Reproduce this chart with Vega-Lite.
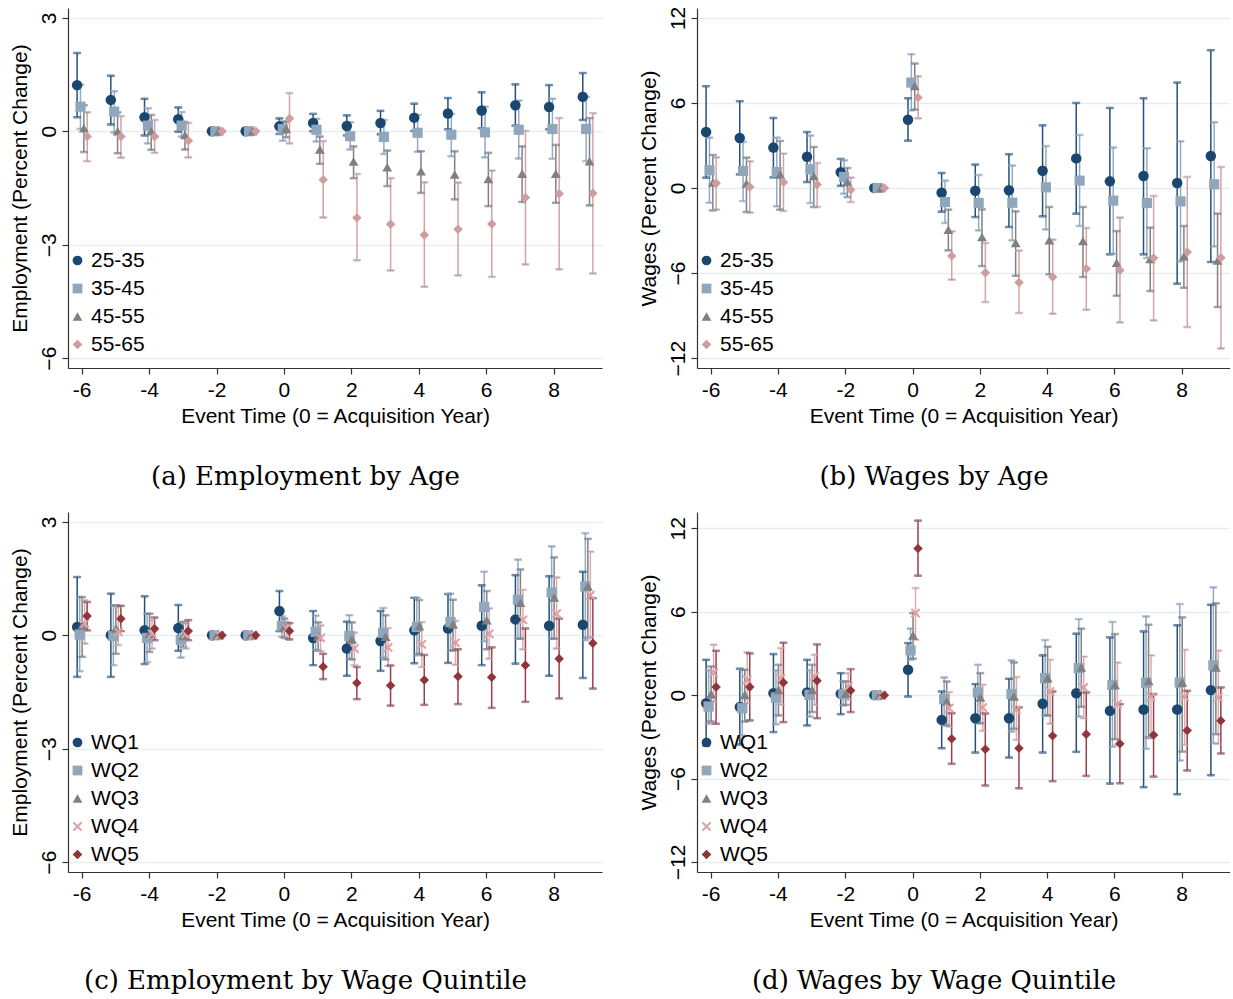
{
  "$schema": "https://vega.github.io/schema/vega-lite/v6.json",
  "padding": {"left": 9, "top": 6, "right": 0, "bottom": 0},
  "background": "white",
  "config": {
    "view": {"stroke": null},
    "font": "Liberation Sans",
    "axis": {"labelFont": "Liberation Sans", "labelFontSize": 21, "titleFont": "Liberation Sans", "titleFontSize": 21, "titleFontWeight": "normal", "labelColor": "#000", "titleColor": "#000", "domainColor": "#333", "tickColor": "#333", "tickSize": 6, "domainWidth": 1.2, "tickWidth": 1.2, "gridColor": "#e6eef0", "gridWidth": 1.3},
    "axisX": {"grid": false, "labelAngle": 0, "labelPadding": 5, "titlePadding": 5},
    "axisY": {"labelAngle": -90, "labelPadding": 3, "titlePadding": 8},
    "legend": {"labelFont": "Liberation Sans", "labelFontSize": 21, "labelColor": "#000", "symbolSize": 95, "rowPadding": 6, "labelOffset": 3, "padding": 0, "symbolStrokeWidth": 0},
    "title": {"font": "DejaVu Serif", "fontSize": 26, "fontWeight": "normal", "color": "#000", "orient": "bottom", "anchor": "middle", "frame": "bounds", "offset": 38}
  },
  "datasets": {
    "A": [
      {"t":-6,"group":"25-35","est":1.22,"lo":0.37,"hi":2.07},{"t":-5,"group":"25-35","est":0.83,"lo":0.18,"hi":1.47},{"t":-4,"group":"25-35","est":0.37,"lo":-0.11,"hi":0.86},{"t":-3,"group":"25-35","est":0.32,"lo":-0.01,"hi":0.63},{"t":-2,"group":"25-35","est":0,"lo":null,"hi":null},{"t":-1,"group":"25-35","est":0,"lo":null,"hi":null},{"t":0,"group":"25-35","est":0.13,"lo":-0.07,"hi":0.34},{"t":1,"group":"25-35","est":0.22,"lo":0.0,"hi":0.46},{"t":2,"group":"25-35","est":0.14,"lo":-0.11,"hi":0.42},{"t":3,"group":"25-35","est":0.22,"lo":-0.08,"hi":0.54},{"t":4,"group":"25-35","est":0.36,"lo":0.01,"hi":0.73},{"t":5,"group":"25-35","est":0.47,"lo":0.05,"hi":0.88},{"t":6,"group":"25-35","est":0.55,"lo":0.08,"hi":1.03},{"t":7,"group":"25-35","est":0.69,"lo":0.15,"hi":1.24},{"t":8,"group":"25-35","est":0.64,"lo":0.05,"hi":1.22},{"t":9,"group":"25-35","est":0.91,"lo":0.30,"hi":1.54},
      {"t":-6,"group":"35-45","est":0.65,"lo":0.06,"hi":1.23},{"t":-5,"group":"35-45","est":0.52,"lo":-0.03,"hi":1.06},{"t":-4,"group":"35-45","est":0.15,"lo":-0.32,"hi":0.61},{"t":-3,"group":"35-45","est":0.15,"lo":-0.14,"hi":0.51},{"t":-2,"group":"35-45","est":0,"lo":null,"hi":null},{"t":-1,"group":"35-45","est":0,"lo":null,"hi":null},{"t":0,"group":"35-45","est":0.06,"lo":-0.25,"hi":0.26},{"t":1,"group":"35-45","est":0.04,"lo":-0.27,"hi":0.33},{"t":2,"group":"35-45","est":-0.13,"lo":-0.48,"hi":0.24},{"t":3,"group":"35-45","est":-0.15,"lo":-0.60,"hi":0.30},{"t":4,"group":"35-45","est":-0.04,"lo":-0.54,"hi":0.43},{"t":5,"group":"35-45","est":-0.09,"lo":-0.66,"hi":0.46},{"t":6,"group":"35-45","est":-0.03,"lo":-0.69,"hi":0.65},{"t":7,"group":"35-45","est":0.04,"lo":-0.72,"hi":0.81},{"t":8,"group":"35-45","est":0.06,"lo":-0.73,"hi":0.86},{"t":9,"group":"35-45","est":0.06,"lo":-0.79,"hi":0.91},
      {"t":-6,"group":"45-55","est":0.08,"lo":-0.55,"hi":0.69},{"t":-5,"group":"45-55","est":0.0,"lo":-0.58,"hi":0.50},{"t":-4,"group":"45-55","est":0.0,"lo":-0.49,"hi":0.43},{"t":-3,"group":"45-55","est":-0.10,"lo":-0.48,"hi":0.24},{"t":-2,"group":"45-55","est":0,"lo":null,"hi":null},{"t":-1,"group":"45-55","est":0,"lo":null,"hi":null},{"t":0,"group":"45-55","est":0.07,"lo":-0.16,"hi":0.25},{"t":1,"group":"45-55","est":-0.48,"lo":-0.86,"hi":-0.14},{"t":2,"group":"45-55","est":-0.80,"lo":-1.24,"hi":-0.40},{"t":3,"group":"45-55","est":-0.95,"lo":-1.45,"hi":-0.51},{"t":4,"group":"45-55","est":-1.06,"lo":-1.63,"hi":-0.53},{"t":5,"group":"45-55","est":-1.14,"lo":-1.80,"hi":-0.53},{"t":6,"group":"45-55","est":-1.26,"lo":-1.98,"hi":-0.57},{"t":7,"group":"45-55","est":-1.12,"lo":-1.87,"hi":-0.40},{"t":8,"group":"45-55","est":-1.12,"lo":-1.89,"hi":-0.36},{"t":9,"group":"45-55","est":-0.79,"lo":-1.96,"hi":0.35},
      {"t":-6,"group":"55-65","est":-0.14,"lo":-0.79,"hi":0.50},{"t":-5,"group":"55-65","est":-0.14,"lo":-0.70,"hi":0.40},{"t":-4,"group":"55-65","est":-0.14,"lo":-0.57,"hi":0.30},{"t":-3,"group":"55-65","est":-0.25,"lo":-0.69,"hi":0.22},{"t":-2,"group":"55-65","est":0,"lo":null,"hi":null},{"t":-1,"group":"55-65","est":0,"lo":null,"hi":null},{"t":0,"group":"55-65","est":0.34,"lo":-0.32,"hi":1.01},{"t":1,"group":"55-65","est":-1.28,"lo":-2.28,"hi":-0.26},{"t":2,"group":"55-65","est":-2.29,"lo":-3.41,"hi":-1.13},{"t":3,"group":"55-65","est":-2.46,"lo":-3.68,"hi":-1.24},{"t":4,"group":"55-65","est":-2.74,"lo":-4.11,"hi":-1.35},{"t":5,"group":"55-65","est":-2.59,"lo":-3.81,"hi":-1.36},{"t":6,"group":"55-65","est":-2.45,"lo":-3.85,"hi":-1.04},{"t":7,"group":"55-65","est":-1.75,"lo":-3.52,"hi":0.01},{"t":8,"group":"55-65","est":-1.65,"lo":-3.65,"hi":0.35},{"t":9,"group":"55-65","est":-1.64,"lo":-3.76,"hi":0.48}
    ],
    "B": [
      {"t":-6,"group":"25-35","est":3.95,"lo":0.73,"hi":7.18},{"t":-5,"group":"25-35","est":3.53,"lo":0.96,"hi":6.12},{"t":-4,"group":"25-35","est":2.85,"lo":0.75,"hi":4.94},{"t":-3,"group":"25-35","est":2.21,"lo":0.42,"hi":3.95},{"t":-2,"group":"25-35","est":1.11,"lo":0.16,"hi":2.05},{"t":-1,"group":"25-35","est":0,"lo":null,"hi":null},{"t":0,"group":"25-35","est":4.82,"lo":3.34,"hi":6.33},{"t":1,"group":"25-35","est":-0.33,"lo":-1.67,"hi":1.06},{"t":2,"group":"25-35","est":-0.19,"lo":-2.05,"hi":1.65},{"t":3,"group":"25-35","est":-0.16,"lo":-2.75,"hi":2.38},{"t":4,"group":"25-35","est":1.22,"lo":-2.0,"hi":4.42},{"t":5,"group":"25-35","est":2.09,"lo":-1.81,"hi":6.0},{"t":6,"group":"25-35","est":0.47,"lo":-4.68,"hi":5.65},{"t":7,"group":"25-35","est":0.85,"lo":-4.68,"hi":6.33},{"t":8,"group":"25-35","est":0.35,"lo":-6.75,"hi":7.44},{"t":9,"group":"25-35","est":2.26,"lo":-5.22,"hi":9.72},
      {"t":-6,"group":"35-45","est":1.25,"lo":-1.04,"hi":3.55},{"t":-5,"group":"35-45","est":1.2,"lo":-0.92,"hi":3.25},{"t":-4,"group":"35-45","est":1.13,"lo":-1.29,"hi":3.55},{"t":-3,"group":"35-45","est":1.32,"lo":-1.06,"hi":3.69},{"t":-2,"group":"35-45","est":0.78,"lo":-0.4,"hi":1.95},{"t":-1,"group":"35-45","est":0,"lo":null,"hi":null},{"t":0,"group":"35-45","est":7.44,"lo":5.48,"hi":9.44},{"t":1,"group":"35-45","est":-0.99,"lo":-2.47,"hi":0.52},{"t":2,"group":"35-45","est":-1.06,"lo":-2.99,"hi":0.92},{"t":3,"group":"35-45","est":-1.04,"lo":-3.69,"hi":1.58},{"t":4,"group":"35-45","est":0.05,"lo":-2.92,"hi":2.96},{"t":5,"group":"35-45","est":0.52,"lo":-2.68,"hi":3.74},{"t":6,"group":"35-45","est":-0.89,"lo":-4.64,"hi":2.85},{"t":7,"group":"35-45","est":-1.06,"lo":-4.94,"hi":2.8},{"t":8,"group":"35-45","est":-0.94,"lo":-5.18,"hi":3.29},{"t":9,"group":"35-45","est":0.26,"lo":-4.12,"hi":4.64},
      {"t":-6,"group":"45-55","est":0.38,"lo":-1.58,"hi":2.33},{"t":-5,"group":"45-55","est":0.31,"lo":-1.69,"hi":2.14},{"t":-4,"group":"45-55","est":0.96,"lo":-1.53,"hi":3.32},{"t":-3,"group":"45-55","est":0.85,"lo":-1.34,"hi":2.89},{"t":-2,"group":"45-55","est":0.42,"lo":-0.64,"hi":1.41},{"t":-1,"group":"45-55","est":0,"lo":null,"hi":null},{"t":0,"group":"45-55","est":7.2,"lo":5.53,"hi":8.78},{"t":1,"group":"45-55","est":-2.94,"lo":-4.4,"hi":-1.53},{"t":2,"group":"45-55","est":-3.46,"lo":-5.51,"hi":-1.51},{"t":3,"group":"45-55","est":-3.88,"lo":-6.19,"hi":-1.65},{"t":4,"group":"45-55","est":-3.69,"lo":-6.09,"hi":-1.34},{"t":5,"group":"45-55","est":-3.74,"lo":-6.28,"hi":-1.34},{"t":6,"group":"45-55","est":-5.27,"lo":-7.6,"hi":-3.04},{"t":7,"group":"45-55","est":-5.01,"lo":-7.27,"hi":-2.8},{"t":8,"group":"45-55","est":-4.82,"lo":-7.04,"hi":-2.68},{"t":9,"group":"45-55","est":-5.11,"lo":-8.4,"hi":-1.81},
      {"t":-6,"group":"55-65","est":0.33,"lo":-1.53,"hi":2.16},{"t":-5,"group":"55-65","est":0.07,"lo":-1.74,"hi":1.88},{"t":-4,"group":"55-65","est":0.4,"lo":-1.62,"hi":2.42},{"t":-3,"group":"55-65","est":0.24,"lo":-1.34,"hi":1.76},{"t":-2,"group":"55-65","est":-0.12,"lo":-0.99,"hi":0.73},{"t":-1,"group":"55-65","est":0,"lo":null,"hi":null},{"t":0,"group":"55-65","est":6.38,"lo":4.92,"hi":7.88},{"t":1,"group":"55-65","est":-4.8,"lo":-6.47,"hi":-3.06},{"t":2,"group":"55-65","est":-5.98,"lo":-8.05,"hi":-3.88},{"t":3,"group":"55-65","est":-6.66,"lo":-8.82,"hi":-4.42},{"t":4,"group":"55-65","est":-6.28,"lo":-8.87,"hi":-3.65},{"t":5,"group":"55-65","est":-5.69,"lo":-8.59,"hi":-2.82},{"t":6,"group":"55-65","est":-5.81,"lo":-9.48,"hi":-2.09},{"t":7,"group":"55-65","est":-4.94,"lo":-9.34,"hi":-0.56},{"t":8,"group":"55-65","est":-4.52,"lo":-9.81,"hi":0.78},{"t":9,"group":"55-65","est":-4.92,"lo":-11.32,"hi":1.48}
    ],
    "C": [
      {"t":-6,"group":"WQ1","est":0.22,"lo":-1.10,"hi":1.54},{"t":-5,"group":"WQ1","est":0.0,"lo":-1.10,"hi":1.10},{"t":-4,"group":"WQ1","est":0.13,"lo":-0.76,"hi":1.03},{"t":-3,"group":"WQ1","est":0.19,"lo":-0.41,"hi":0.80},{"t":-2,"group":"WQ1","est":0,"lo":null,"hi":null},{"t":-1,"group":"WQ1","est":0,"lo":null,"hi":null},{"t":0,"group":"WQ1","est":0.64,"lo":0.11,"hi":1.17},{"t":1,"group":"WQ1","est":-0.07,"lo":-0.79,"hi":0.64},{"t":2,"group":"WQ1","est":-0.35,"lo":-1.07,"hi":0.36},{"t":3,"group":"WQ1","est":-0.15,"lo":-0.94,"hi":0.64},{"t":4,"group":"WQ1","est":0.13,"lo":-0.74,"hi":0.99},{"t":5,"group":"WQ1","est":0.18,"lo":-0.73,"hi":1.09},{"t":6,"group":"WQ1","est":0.25,"lo":-0.79,"hi":1.32},{"t":7,"group":"WQ1","est":0.42,"lo":-0.75,"hi":1.59},{"t":8,"group":"WQ1","est":0.25,"lo":-1.07,"hi":1.56},{"t":9,"group":"WQ1","est":0.28,"lo":-1.13,"hi":1.68},
      {"t":-6,"group":"WQ2","est":0.02,"lo":-0.95,"hi":1.01},{"t":-5,"group":"WQ2","est":-0.02,"lo":-0.79,"hi":0.79},{"t":-4,"group":"WQ2","est":-0.07,"lo":-0.71,"hi":0.57},{"t":-3,"group":"WQ2","est":-0.12,"lo":-0.59,"hi":0.35},{"t":-2,"group":"WQ2","est":0,"lo":null,"hi":null},{"t":-1,"group":"WQ2","est":0,"lo":null,"hi":null},{"t":0,"group":"WQ2","est":0.25,"lo":-0.04,"hi":0.50},{"t":1,"group":"WQ2","est":0.09,"lo":-0.38,"hi":0.52},{"t":2,"group":"WQ2","est":-0.02,"lo":-0.62,"hi":0.53},{"t":3,"group":"WQ2","est":0.06,"lo":-0.59,"hi":0.72},{"t":4,"group":"WQ2","est":0.22,"lo":-0.53,"hi":0.99},{"t":5,"group":"WQ2","est":0.35,"lo":-0.40,"hi":1.10},{"t":6,"group":"WQ2","est":0.75,"lo":-0.16,"hi":1.68},{"t":7,"group":"WQ2","est":0.94,"lo":-0.09,"hi":2.0},{"t":8,"group":"WQ2","est":1.13,"lo":-0.09,"hi":2.35},{"t":9,"group":"WQ2","est":1.29,"lo":-0.13,"hi":2.70},
      {"t":-6,"group":"WQ3","est":0.26,"lo":-0.57,"hi":1.01},{"t":-5,"group":"WQ3","est":0.18,"lo":-0.49,"hi":0.79},{"t":-4,"group":"WQ3","est":0.04,"lo":-0.44,"hi":0.57},{"t":-3,"group":"WQ3","est":-0.02,"lo":-0.31,"hi":0.35},{"t":-2,"group":"WQ3","est":0,"lo":null,"hi":null},{"t":-1,"group":"WQ3","est":0,"lo":null,"hi":null},{"t":0,"group":"WQ3","est":0.22,"lo":-0.07,"hi":0.44},{"t":1,"group":"WQ3","est":-0.03,"lo":-0.41,"hi":0.34},{"t":2,"group":"WQ3","est":-0.11,"lo":-0.64,"hi":0.34},{"t":3,"group":"WQ3","est":-0.04,"lo":-0.64,"hi":0.53},{"t":4,"group":"WQ3","est":0.24,"lo":-0.49,"hi":0.93},{"t":5,"group":"WQ3","est":0.29,"lo":-0.40,"hi":0.94},{"t":6,"group":"WQ3","est":0.40,"lo":-0.37,"hi":1.17},{"t":7,"group":"WQ3","est":0.86,"lo":-0.09,"hi":1.74},{"t":8,"group":"WQ3","est":1.0,"lo":-0.09,"hi":2.06},{"t":9,"group":"WQ3","est":1.29,"lo":-0.07,"hi":2.55},
      {"t":-6,"group":"WQ4","est":0.31,"lo":-0.22,"hi":0.93},{"t":-5,"group":"WQ4","est":0.09,"lo":-0.26,"hi":0.75},{"t":-4,"group":"WQ4","est":0.04,"lo":-0.35,"hi":0.40},{"t":-3,"group":"WQ4","est":0.04,"lo":-0.35,"hi":0.31},{"t":-2,"group":"WQ4","est":0,"lo":null,"hi":null},{"t":-1,"group":"WQ4","est":0,"lo":null,"hi":null},{"t":0,"group":"WQ4","est":0.18,"lo":-0.09,"hi":0.35},{"t":1,"group":"WQ4","est":-0.07,"lo":-0.42,"hi":0.26},{"t":2,"group":"WQ4","est":-0.35,"lo":-0.79,"hi":0.07},{"t":3,"group":"WQ4","est":-0.32,"lo":-0.81,"hi":0.19},{"t":4,"group":"WQ4","est":-0.24,"lo":-0.84,"hi":0.35},{"t":5,"group":"WQ4","est":-0.20,"lo":-0.78,"hi":0.38},{"t":6,"group":"WQ4","est":0.04,"lo":-0.62,"hi":0.71},{"t":7,"group":"WQ4","est":0.41,"lo":-0.37,"hi":1.20},{"t":8,"group":"WQ4","est":0.57,"lo":-0.35,"hi":1.53},{"t":9,"group":"WQ4","est":1.06,"lo":-0.04,"hi":2.21},
      {"t":-6,"group":"WQ5","est":0.51,"lo":0.13,"hi":0.88},{"t":-5,"group":"WQ5","est":0.44,"lo":0.11,"hi":0.78},{"t":-4,"group":"WQ5","est":0.17,"lo":-0.13,"hi":0.47},{"t":-3,"group":"WQ5","est":0.11,"lo":-0.13,"hi":0.40},{"t":-2,"group":"WQ5","est":0,"lo":null,"hi":null},{"t":-1,"group":"WQ5","est":0,"lo":null,"hi":null},{"t":0,"group":"WQ5","est":0.11,"lo":-0.11,"hi":0.32},{"t":1,"group":"WQ5","est":-0.83,"lo":-1.16,"hi":-0.49},{"t":2,"group":"WQ5","est":-1.26,"lo":-1.69,"hi":-0.84},{"t":3,"group":"WQ5","est":-1.33,"lo":-1.86,"hi":-0.80},{"t":4,"group":"WQ5","est":-1.18,"lo":-1.84,"hi":-0.52},{"t":5,"group":"WQ5","est":-1.09,"lo":-1.82,"hi":-0.37},{"t":6,"group":"WQ5","est":-1.11,"lo":-1.92,"hi":-0.32},{"t":7,"group":"WQ5","est":-0.79,"lo":-1.76,"hi":0.18},{"t":8,"group":"WQ5","est":-0.62,"lo":-1.67,"hi":0.44},{"t":9,"group":"WQ5","est":-0.21,"lo":-1.41,"hi":0.98}
    ],
    "D": [
      {"t":-6,"group":"WQ1","est":-0.58,"lo":-3.65,"hi":2.54},{"t":-5,"group":"WQ1","est":-0.85,"lo":-3.55,"hi":1.9},{"t":-4,"group":"WQ1","est":0.14,"lo":-2.66,"hi":2.95},{"t":-3,"group":"WQ1","est":0.19,"lo":-2.18,"hi":2.54},{"t":-2,"group":"WQ1","est":0.10,"lo":-1.37,"hi":1.58},{"t":-1,"group":"WQ1","est":0,"lo":null,"hi":null},{"t":0,"group":"WQ1","est":1.82,"lo":-0.10,"hi":3.74},{"t":1,"group":"WQ1","est":-1.78,"lo":-3.82,"hi":0.26},{"t":2,"group":"WQ1","est":-1.66,"lo":-4.13,"hi":0.79},{"t":3,"group":"WQ1","est":-1.66,"lo":-4.49,"hi":1.18},{"t":4,"group":"WQ1","est":-0.62,"lo":-4.13,"hi":2.86},{"t":5,"group":"WQ1","est":0.14,"lo":-4.08,"hi":4.42},{"t":6,"group":"WQ1","est":-1.13,"lo":-6.36,"hi":4.15},{"t":7,"group":"WQ1","est":-1.03,"lo":-6.62,"hi":4.58},{"t":8,"group":"WQ1","est":-1.03,"lo":-7.13,"hi":5.02},{"t":9,"group":"WQ1","est":0.36,"lo":-5.76,"hi":6.50},
      {"t":-6,"group":"WQ2","est":-0.82,"lo":-2.06,"hi":1.78},{"t":-5,"group":"WQ2","est":-0.94,"lo":-2.9,"hi":1.82},{"t":-4,"group":"WQ2","est":-0.17,"lo":-2.09,"hi":1.78},{"t":-3,"group":"WQ2","est":0.02,"lo":-1.54,"hi":1.80},{"t":-2,"group":"WQ2","est":0.07,"lo":-0.74,"hi":0.98},{"t":-1,"group":"WQ2","est":0,"lo":null,"hi":null},{"t":0,"group":"WQ2","est":3.22,"lo":2.54,"hi":4.78},{"t":1,"group":"WQ2","est":-0.29,"lo":-2.14,"hi":1.27},{"t":2,"group":"WQ2","est":0.19,"lo":-2.02,"hi":2.18},{"t":3,"group":"WQ2","est":0.07,"lo":-2.62,"hi":2.50},{"t":4,"group":"WQ2","est":1.22,"lo":-1.46,"hi":3.96},{"t":5,"group":"WQ2","est":1.94,"lo":-1.54,"hi":5.47},{"t":6,"group":"WQ2","est":0.74,"lo":-3.72,"hi":5.26},{"t":7,"group":"WQ2","est":0.89,"lo":-3.86,"hi":5.66},{"t":8,"group":"WQ2","est":0.91,"lo":-4.70,"hi":6.55},{"t":9,"group":"WQ2","est":2.14,"lo":-3.46,"hi":7.75},
      {"t":-6,"group":"WQ3","est":0.07,"lo":-1.90,"hi":2.06},{"t":-5,"group":"WQ3","est":0.02,"lo":-1.90,"hi":1.82},{"t":-4,"group":"WQ3","est":0.38,"lo":-1.46,"hi":2.18},{"t":-3,"group":"WQ3","est":0.38,"lo":-1.22,"hi":2.18},{"t":-2,"group":"WQ3","est":0.12,"lo":-0.70,"hi":0.98},{"t":-1,"group":"WQ3","est":0,"lo":null,"hi":null},{"t":0,"group":"WQ3","est":4.30,"lo":2.62,"hi":5.90},{"t":1,"group":"WQ3","est":-0.46,"lo":-2.18,"hi":0.98},{"t":2,"group":"WQ3","est":-0.17,"lo":-2.02,"hi":1.58},{"t":3,"group":"WQ3","est":-0.10,"lo":-2.42,"hi":2.35},{"t":4,"group":"WQ3","est":1.22,"lo":-1.46,"hi":3.48},{"t":5,"group":"WQ3","est":1.99,"lo":-0.84,"hi":4.78},{"t":6,"group":"WQ3","est":0.74,"lo":-3.17,"hi":4.39},{"t":7,"group":"WQ3","est":1.03,"lo":-3.05,"hi":5.06},{"t":8,"group":"WQ3","est":0.91,"lo":-4.06,"hi":5.59},{"t":9,"group":"WQ3","est":1.99,"lo":-2.81,"hi":6.60},
      {"t":-6,"group":"WQ4","est":1.6,"lo":-0.46,"hi":3.62},{"t":-5,"group":"WQ4","est":1.1,"lo":-0.58,"hi":3.07},{"t":-4,"group":"WQ4","est":1.22,"lo":-0.70,"hi":3.38},{"t":-3,"group":"WQ4","est":1.34,"lo":-0.70,"hi":2.90},{"t":-2,"group":"WQ4","est":0.62,"lo":-0.34,"hi":1.58},{"t":-1,"group":"WQ4","est":0,"lo":null,"hi":null},{"t":0,"group":"WQ4","est":5.90,"lo":3.98,"hi":7.70},{"t":1,"group":"WQ4","est":-0.94,"lo":-2.26,"hi":0.22},{"t":2,"group":"WQ4","est":-0.89,"lo":-2.57,"hi":0.74},{"t":3,"group":"WQ4","est":-1.06,"lo":-3.22,"hi":1.30},{"t":4,"group":"WQ4","est":0.26,"lo":-2.06,"hi":2.54},{"t":5,"group":"WQ4","est":0.55,"lo":-1.66,"hi":2.76},{"t":6,"group":"WQ4","est":-0.65,"lo":-3.58,"hi":2.33},{"t":7,"group":"WQ4","est":-0.12,"lo":-3.10,"hi":2.86},{"t":8,"group":"WQ4","est":-0.12,"lo":-3.58,"hi":3.26},{"t":9,"group":"WQ4","est":-0.17,"lo":-3.50,"hi":3.19},
      {"t":-6,"group":"WQ5","est":0.58,"lo":-2.06,"hi":3.19},{"t":-5,"group":"WQ5","est":0.58,"lo":-1.82,"hi":3.0},{"t":-4,"group":"WQ5","est":0.91,"lo":-1.94,"hi":3.77},{"t":-3,"group":"WQ5","est":1.03,"lo":-1.66,"hi":3.65},{"t":-2,"group":"WQ5","est":0.34,"lo":-1.22,"hi":1.87},{"t":-1,"group":"WQ5","est":0,"lo":null,"hi":null},{"t":0,"group":"WQ5","est":10.54,"lo":8.59,"hi":12.55},{"t":1,"group":"WQ5","est":-3.14,"lo":-4.94,"hi":-1.30},{"t":2,"group":"WQ5","est":-3.89,"lo":-6.50,"hi":-1.32},{"t":3,"group":"WQ5","est":-3.82,"lo":-6.70,"hi":-0.89},{"t":4,"group":"WQ5","est":-2.93,"lo":-6.19,"hi":0.26},{"t":5,"group":"WQ5","est":-2.81,"lo":-5.81,"hi":0.19},{"t":6,"group":"WQ5","est":-3.50,"lo":-6.34,"hi":-0.65},{"t":7,"group":"WQ5","est":-2.86,"lo":-5.86,"hi":0.07},{"t":8,"group":"WQ5","est":-2.54,"lo":-5.42,"hi":0.31},{"t":9,"group":"WQ5","est":-1.85,"lo":-4.20,"hi":0.55}
    ]
  },
  "resolve": {"scale": {"x": "independent", "y": "independent", "color": "independent", "stroke": "independent", "shape": "independent", "size": "independent", "xOffset": "independent"}, "legend": {"color": "independent", "shape": "independent"}},
  "spacing": 22,
  "vconcat": [
    {
      "spacing": 36,
      "resolve": {"scale": {"x": "independent", "y": "independent", "color": "independent", "stroke": "independent", "shape": "independent", "size": "independent", "xOffset": "independent"}, "legend": {"color": "independent", "shape": "independent"}},
      "hconcat": [
        {
          "width": 534, "height": 360,
          "data": {"name": "A"},
          "title": "(a) Employment by Age",
          "encoding": {
            "x": {"field": "t", "type": "ordinal", "scale": {"domain": [-6,-5,-4,-3,-2,-1,0,1,2,3,4,5,6,7,8,9], "paddingInner": 0.6, "paddingOuter": 0.22}, "axis": {"values": [-6,-4,-2,0,2,4,6,8], "title": "Event Time (0 = Acquisition Year)"}},
            "xOffset": {"field": "group", "type": "nominal", "scale": {"domain": ["25-35","35-45","45-55","55-65"], "paddingInner": 0, "paddingOuter": 0}}
          },
          "layer": [
            {"mark": {"type": "rule", "strokeWidth": 1.5},
             "encoding": {"y": {"field": "lo", "type": "quantitative", "scale": {"domain": [-6.26, 3.26], "nice": false, "zero": false}, "axis": {"values": [-6,-3,0,3], "title": "Employment (Percent Change)"}}, "y2": {"field": "hi"},
               "stroke": {"field": "group", "type": "nominal", "scale": {"range": ["#24507a","#95abc1","#808080","#d3a3a6"]}, "legend": null}}},
            {"mark": {"type": "tick", "thickness": 1.5, "size": 7},
             "encoding": {"y": {"field": "lo", "type": "quantitative"}, "stroke": {"field": "group", "type": "nominal", "legend": null}}},
            {"mark": {"type": "tick", "thickness": 1.5, "size": 7},
             "encoding": {"y": {"field": "hi", "type": "quantitative"}, "stroke": {"field": "group", "type": "nominal", "legend": null}}},
            {"mark": {"type": "point", "filled": true, "opacity": 1, "strokeWidth": 0},
             "encoding": {"y": {"field": "est", "type": "quantitative"},
               "color": {"field": "group", "type": "nominal", "scale": {"domain": ["25-35","35-45","45-55","55-65"], "range": ["#1a476f","#8fa6bd","#808080","#cf9da0"]}, "legend": {"title": null, "orient": "none", "legendX": -1, "legendY": 242}},
               "shape": {"field": "group", "type": "nominal", "scale": {"domain": ["25-35","35-45","45-55","55-65"], "range": ["circle","square","triangle-up","diamond"]}, "legend": {"title": null, "orient": "none", "legendX": -1, "legendY": 242}},
               "size": {"field": "group", "type": "ordinal", "scale": {"range": [110, 90, 100, 170]}, "legend": null}}}
          ]
        },
        {
          "width": 533, "height": 360,
          "data": {"name": "B"},
          "title": "(b) Wages by Age",
          "encoding": {
            "x": {"field": "t", "type": "ordinal", "scale": {"domain": [-6,-5,-4,-3,-2,-1,0,1,2,3,4,5,6,7,8,9], "paddingInner": 0.6, "paddingOuter": 0.22}, "axis": {"values": [-6,-4,-2,0,2,4,6,8], "title": "Event Time (0 = Acquisition Year)"}},
            "xOffset": {"field": "group", "type": "nominal", "scale": {"domain": ["25-35","35-45","45-55","55-65"], "paddingInner": 0, "paddingOuter": 0}}
          },
          "layer": [
            {"mark": {"type": "rule", "strokeWidth": 1.5},
             "encoding": {"y": {"field": "lo", "type": "quantitative", "scale": {"domain": [-12.7, 12.7], "nice": false, "zero": false}, "axis": {"values": [-12,-6,0,6,12], "title": "Wages (Percent Change)"}}, "y2": {"field": "hi"},
               "stroke": {"field": "group", "type": "nominal", "scale": {"range": ["#24507a","#95abc1","#808080","#d3a3a6"]}, "legend": null}}},
            {"mark": {"type": "tick", "thickness": 1.5, "size": 7},
             "encoding": {"y": {"field": "lo", "type": "quantitative"}, "stroke": {"field": "group", "type": "nominal", "legend": null}}},
            {"mark": {"type": "tick", "thickness": 1.5, "size": 7},
             "encoding": {"y": {"field": "hi", "type": "quantitative"}, "stroke": {"field": "group", "type": "nominal", "legend": null}}},
            {"mark": {"type": "point", "filled": true, "opacity": 1, "strokeWidth": 0},
             "encoding": {"y": {"field": "est", "type": "quantitative"},
               "color": {"field": "group", "type": "nominal", "scale": {"domain": ["25-35","35-45","45-55","55-65"], "range": ["#1a476f","#8fa6bd","#808080","#cf9da0"]}, "legend": {"title": null, "orient": "none", "legendX": -1, "legendY": 242}},
               "shape": {"field": "group", "type": "nominal", "scale": {"domain": ["25-35","35-45","45-55","55-65"], "range": ["circle","square","triangle-up","diamond"]}, "legend": {"title": null, "orient": "none", "legendX": -1, "legendY": 242}},
               "size": {"field": "group", "type": "ordinal", "scale": {"range": [110, 90, 100, 170]}, "legend": null}}}
          ]
        }
      ]
    },
    {
      "spacing": 36,
      "resolve": {"scale": {"x": "independent", "y": "independent", "color": "independent", "stroke": "independent", "shape": "independent", "size": "independent", "xOffset": "independent"}, "legend": {"color": "independent", "shape": "independent"}},
      "hconcat": [
        {
          "width": 534, "height": 360,
          "data": {"name": "C"},
          "title": "(c) Employment by Wage Quintile",
          "encoding": {
            "x": {"field": "t", "type": "ordinal", "scale": {"domain": [-6,-5,-4,-3,-2,-1,0,1,2,3,4,5,6,7,8,9], "paddingInner": 0.63, "paddingOuter": 0.235}, "axis": {"values": [-6,-4,-2,0,2,4,6,8], "title": "Event Time (0 = Acquisition Year)"}},
            "xOffset": {"field": "group", "type": "nominal", "scale": {"domain": ["WQ1","WQ2","WQ3","WQ4","WQ5"], "paddingInner": 0, "paddingOuter": 0}}
          },
          "layer": [
            {"mark": {"type": "rule", "strokeWidth": 1.5},
             "encoding": {"y": {"field": "lo", "type": "quantitative", "scale": {"domain": [-6.26, 3.26], "nice": false, "zero": false}, "axis": {"values": [-6,-3,0,3], "title": "Employment (Percent Change)"}}, "y2": {"field": "hi"},
               "stroke": {"field": "group", "type": "nominal", "scale": {"range": ["#24507a","#95abc1","#808080","#dfabae","#98404a"]}, "legend": null}}},
            {"mark": {"type": "tick", "thickness": 1.5, "size": 7},
             "encoding": {"y": {"field": "lo", "type": "quantitative"}, "stroke": {"field": "group", "type": "nominal", "legend": null}}},
            {"mark": {"type": "tick", "thickness": 1.5, "size": 7},
             "encoding": {"y": {"field": "hi", "type": "quantitative"}, "stroke": {"field": "group", "type": "nominal", "legend": null}}},
            {"mark": {"type": "point", "filled": true, "opacity": 1, "strokeWidth": 0},
             "encoding": {"y": {"field": "est", "type": "quantitative"},
               "color": {"field": "group", "type": "nominal", "scale": {"domain": ["WQ1","WQ2","WQ3","WQ4","WQ5"], "range": ["#1a476f","#8fa6bd","#808080","#dca3a6","#90353b"]}, "legend": {"title": null, "orient": "none", "legendX": -1, "legendY": 220}},
               "shape": {"field": "group", "type": "nominal", "scale": {"domain": ["WQ1","WQ2","WQ3","WQ4","WQ5"], "range": ["circle","square","triangle-up","M-1,-0.7L-0.7,-1L0,-0.3L0.7,-1L1,-0.7L0.3,0L1,0.7L0.7,1L0,0.3L-0.7,1L-1,0.7L-0.3,0Z","diamond"]}, "legend": {"title": null, "orient": "none", "legendX": -1, "legendY": 220}},
               "size": {"field": "group", "type": "ordinal", "scale": {"range": [110, 90, 100, 40, 170]}, "legend": null}}}
          ]
        },
        {
          "width": 533, "height": 360,
          "data": {"name": "D"},
          "title": "(d) Wages by Wage Quintile",
          "encoding": {
            "x": {"field": "t", "type": "ordinal", "scale": {"domain": [-6,-5,-4,-3,-2,-1,0,1,2,3,4,5,6,7,8,9], "paddingInner": 0.63, "paddingOuter": 0.235}, "axis": {"values": [-6,-4,-2,0,2,4,6,8], "title": "Event Time (0 = Acquisition Year)"}},
            "xOffset": {"field": "group", "type": "nominal", "scale": {"domain": ["WQ1","WQ2","WQ3","WQ4","WQ5"], "paddingInner": 0, "paddingOuter": 0}}
          },
          "layer": [
            {"mark": {"type": "rule", "strokeWidth": 1.5},
             "encoding": {"y": {"field": "lo", "type": "quantitative", "scale": {"domain": [-12.72, 13.17], "nice": false, "zero": false}, "axis": {"values": [-12,-6,0,6,12], "title": "Wages (Percent Change)"}}, "y2": {"field": "hi"},
               "stroke": {"field": "group", "type": "nominal", "scale": {"range": ["#24507a","#95abc1","#808080","#dfabae","#98404a"]}, "legend": null}}},
            {"mark": {"type": "tick", "thickness": 1.5, "size": 7},
             "encoding": {"y": {"field": "lo", "type": "quantitative"}, "stroke": {"field": "group", "type": "nominal", "legend": null}}},
            {"mark": {"type": "tick", "thickness": 1.5, "size": 7},
             "encoding": {"y": {"field": "hi", "type": "quantitative"}, "stroke": {"field": "group", "type": "nominal", "legend": null}}},
            {"mark": {"type": "point", "filled": true, "opacity": 1, "strokeWidth": 0},
             "encoding": {"y": {"field": "est", "type": "quantitative"},
               "color": {"field": "group", "type": "nominal", "scale": {"domain": ["WQ1","WQ2","WQ3","WQ4","WQ5"], "range": ["#1a476f","#8fa6bd","#808080","#dca3a6","#90353b"]}, "legend": {"title": null, "orient": "none", "legendX": -1, "legendY": 220}},
               "shape": {"field": "group", "type": "nominal", "scale": {"domain": ["WQ1","WQ2","WQ3","WQ4","WQ5"], "range": ["circle","square","triangle-up","M-1,-0.7L-0.7,-1L0,-0.3L0.7,-1L1,-0.7L0.3,0L1,0.7L0.7,1L0,0.3L-0.7,1L-1,0.7L-0.3,0Z","diamond"]}, "legend": {"title": null, "orient": "none", "legendX": -1, "legendY": 220}},
               "size": {"field": "group", "type": "ordinal", "scale": {"range": [110, 90, 100, 40, 170]}, "legend": null}}}
          ]
        }
      ]
    }
  ]
}
